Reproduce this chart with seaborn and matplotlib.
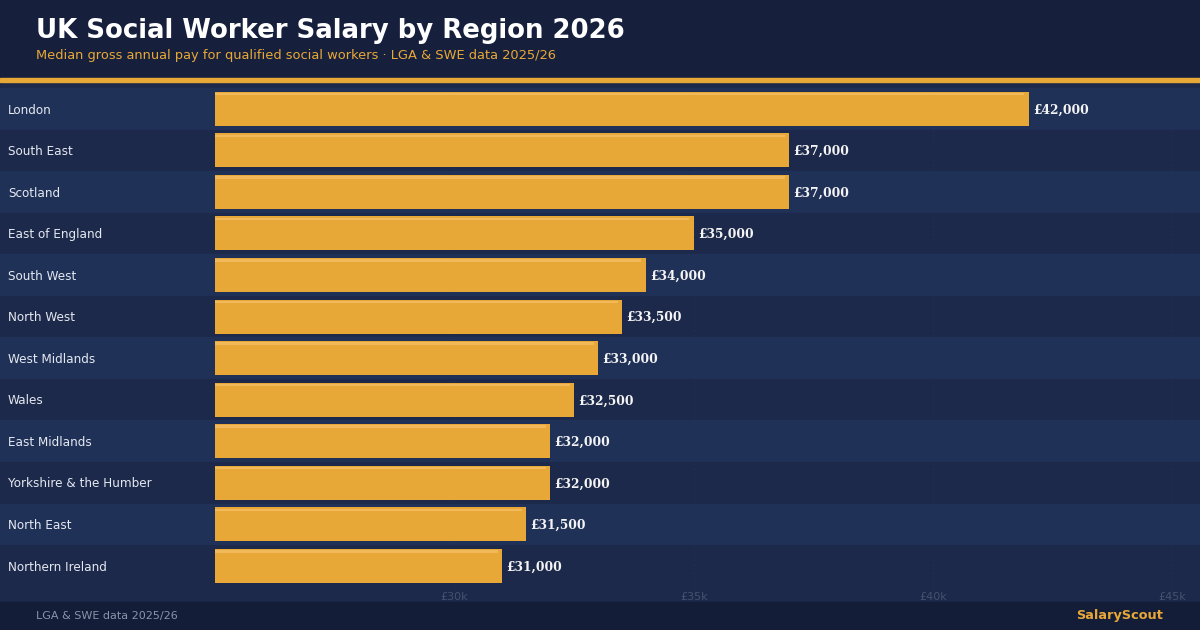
import matplotlib
matplotlib.use("Agg")
import matplotlib.pyplot as plt
import matplotlib.transforms as mtransforms
from matplotlib.patches import Rectangle
import seaborn as sns

regions = ["London", "South East", "Scotland", "East of England", "South West",
           "North West", "West Midlands", "Wales", "East Midlands",
           "Yorkshire & the Humber", "North East", "Northern Ireland"]
salaries = [42000, 37000, 37000, 35000, 34000, 33500, 33000, 32500,
            32000, 32000, 31500, 31000]
tick_values = [30000, 35000, 40000, 45000]
tick_labels = ["£30k", "£35k", "£40k", "£45k"]

GOLD = "#e8a838"
GOLD_HI = "#f2b95a"
HEADER = "#16203c"
FOOTER = "#141d37"
BAND_A = "#203158"
BAND_B = "#1c294a"

sns.set_theme(style="white")
plt.rcParams["font.family"] = ["DejaVu Sans"]

W, H = 1200, 630
fig = plt.figure(figsize=(12, 6.3), dpi=100)
fig.patch.set_facecolor(BAND_B)

# header, gold rule, footer
fig.add_artist(Rectangle((0, 1 - 78 / H), 1, 78 / H, transform=fig.transFigure,
                         color=HEADER, zorder=0))
fig.add_artist(Rectangle((0, 1 - 82 / H), 1, 4 / H, transform=fig.transFigure,
                         color=GOLD, zorder=0))
fig.add_artist(Rectangle((0, 0), 1, 28 / H, transform=fig.transFigure,
                         color=FOOTER, zorder=0))

fig.text(36 / W, 1 - 30.5 / H, "UK Social Worker Salary by Region 2026",
         color="white", fontsize=18.7, fontweight="bold", va="center")
fig.text(36 / W, 1 - 55 / H,
         "Median gross annual pay for qualified social workers · LGA & SWE data 2025/26",
         color=GOLD, fontsize=9.35, va="center")
fig.text(36 / W, 14 / H, "LGA & SWE data 2025/26", color="#8a93aa",
         fontsize=8, va="center")
fig.text(1163 / W, 14 / H, "SalaryScout", color=GOLD, fontsize=9.3,
         fontweight="bold", va="center", ha="right")

ax = fig.add_axes([215 / W, 28 / H, 985 / W, (602 - 88) / H])
ax.set_facecolor("none")

# alternating row bands across the full width
for i in range(len(regions)):
    ax.axhspan(i - 0.5, i + 0.5, xmin=-215 / 985, xmax=1,
               color=BAND_A if i % 2 == 0 else BAND_B, zorder=0, clip_on=False)

sns.barplot(x=salaries, y=regions, orient="h", color=GOLD, saturation=1,
            width=0.82, linewidth=0, edgecolor="none", ax=ax, zorder=2)
ax.barh([i - 0.35 for i in range(len(regions))], [v - 90 for v in salaries],
        height=0.06, color=GOLD_HI, linewidth=0, zorder=3)

ax.set_xlim(25000, 45580)
ax.set_ylim(11.87, -0.5)

for x in tick_values:
    ax.axvline(x, color="#26365e", lw=0.6, ls=(0, (1, 4)), zorder=1)

tr = mtransforms.blended_transform_factory(ax.transData, ax.transAxes)
for x, lab in zip(tick_values, tick_labels):
    ax.text(x, 5 / 514, lab, transform=tr, ha="center", va="center",
            color="#46516e", fontsize=8)

lab_tr = mtransforms.blended_transform_factory(fig.transFigure, ax.transData)
for i, (name, v) in enumerate(zip(regions, salaries)):
    ax.text(8 / W, i + 0.03, name, transform=lab_tr, ha="left", va="center",
            color="#e4e8f0", fontsize=8.65, clip_on=False)
    ax.text(v + 90, i + 0.03, f"£{v:,}", ha="left", va="center", color="#f4f4f4",
            fontsize=8.8, fontweight="bold", family="DejaVu Serif", zorder=4)

ax.set_xticks([])
ax.set_yticks([])
ax.set_xlabel("")
ax.set_ylabel("")
sns.despine(ax=ax, left=True, bottom=True)

fig.savefig("out.png", dpi=100, facecolor=fig.get_facecolor())
plt.close(fig)
